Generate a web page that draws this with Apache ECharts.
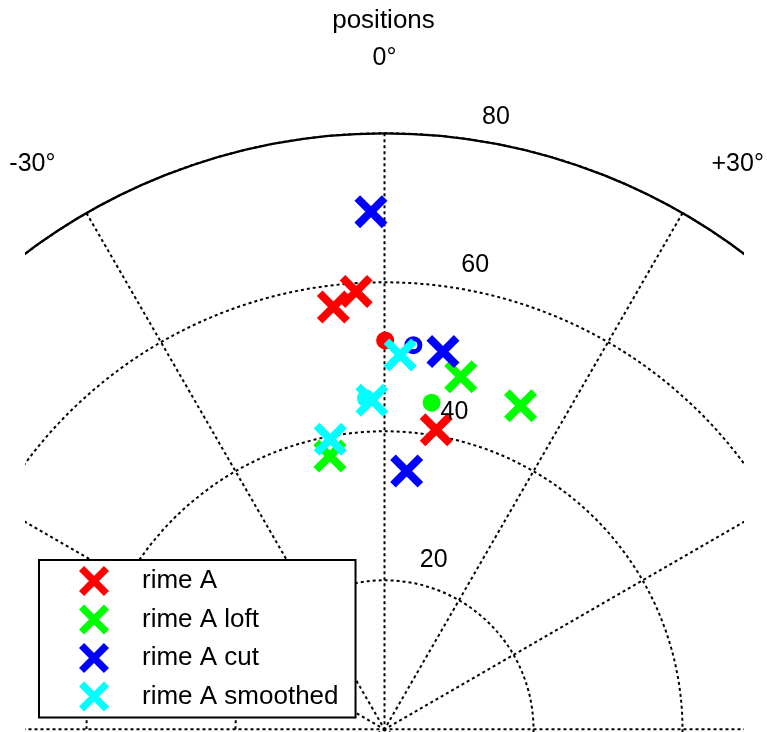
<!DOCTYPE html>
<html>
<head>
<meta charset="utf-8">
<script src="https://cdn.jsdelivr.net/npm/echarts@6/dist/echarts.min.js"></script>
<style>
  html, body { margin: 0; padding: 0; background: #ffffff; }
  #chart { width: 767px; height: 732px; }
</style>
</head>
<body>
<div id="chart"></div>
<script>
// Series names and colours
const seriesNames = ['rime A', 'rime A loft', 'rime A cut', 'rime A smoothed'];
const seriesColors = ['#ff0000', '#00ff00', '#0000ff', '#00ffff'];

// Positions: angle in degrees (clockwise from 0° at the top) and radius
const rimeAngle = [-3.7, -6.9, 9.8];
const rimeRadius = [58.9, 57.1, 40.8];
const loftAngle = [12.2, 22.8, -11.3];
const loftRadius = [48.4, 47.1, 37.4];
const cutAngle = [-1.5, 8.8, 4.9];
const cutRadius = [69.5, 51.3, 34.8];
const smoothAngle = [2.4, -2.2, -10.6];
const smoothRadius = [50.3, 44.2, 39.6];

// Centre point of each set (same order as seriesNames)
const centreAngle = [0.1, 8.2, 4.3, -3.2];
const centreRadius = [52.2, 44.3, 51.7, 44.5];

// Axis ticks and labels
const angleTicks = [-30, 0, 30];
const angleTickLabels = ['-30°', '0°', '+30°'];
const radiusTicks = [20, 40, 60, 80];
const radiusTickLabels = ['20', '40', '60', '80'];

const FONT = "'Liberation Sans', Arial, Helvetica, sans-serif";
const CX = 384.5, CY = 729.3, R = 596;

// "x" marker drawn as two crossing bars
const xMark = 'path://M17,0L100,83L83,100L0,17Z M83,0L100,17L17,100L0,83Z';

const angleSets = [rimeAngle, loftAngle, cutAngle, smoothAngle];
const radiusSets = [rimeRadius, loftRadius, cutRadius, smoothRadius];

function pairs(radii, angles) {
  return radii.map((r, i) => [r, angles[i]]);
}

const series = [];
seriesNames.forEach((name, k) => {
  series.push({
    type: 'scatter', name: name, coordinateSystem: 'polar', polarIndex: 0,
    symbol: xMark, symbolSize: 33, silent: true,
    itemStyle: { color: seriesColors[k], opacity: 1 },
    data: pairs(radiusSets[k], angleSets[k])
  });
  const hollow = k === 2;
  series.push({
    type: 'scatter', name: name + ' centre', coordinateSystem: 'polar', polarIndex: 0,
    symbol: 'circle', symbolSize: hollow ? 13 : 18, silent: true,
    itemStyle: hollow
      ? { color: 'rgba(0,0,0,0)', borderColor: seriesColors[k], borderWidth: 5, opacity: 1 }
      : { color: seriesColors[k], opacity: 1 },
    data: [[centreRadius[k], centreAngle[k]]]
  });
});

const dotted = { color: '#000', width: 2, type: [3, 3] };
const angleStyles = ['l', 't', 'r'];

const option = {
  animation: false,
  backgroundColor: '#ffffff',
  textStyle: { fontFamily: FONT },
  title: {
    text: 'positions', left: 'center', top: 3,
    textStyle: { fontSize: 26, fontWeight: 'normal', color: '#000', fontFamily: FONT }
  },
  legend: {
    data: seriesNames, orient: 'vertical', left: 39, top: 560,
    padding: [6, 17, 6, 40], itemWidth: 32, itemHeight: 30, itemGap: 8.5,
    backgroundColor: '#ffffff', borderColor: '#000', borderWidth: 2, borderRadius: 0,
    selectedMode: false, z: 5,
    formatter: name => '{n|' + name + '}',
    textStyle: {
      fontSize: 26, color: '#000', fontFamily: FONT,
      rich: { n: { fontSize: 26, color: '#000', fontFamily: FONT, padding: [0, 0, 0, 27] } }
    }
  },
  graphic: {
    elements: [
      { type: 'rect', z: 1, silent: true, shape: { x: 0, y: 0, width: 25, height: 732 }, style: { fill: '#ffffff' } },
      { type: 'rect', z: 1, silent: true, shape: { x: 744, y: 0, width: 23, height: 732 }, style: { fill: '#ffffff' } }
    ]
  },
  polar: [
    { center: [CX, CY], radius: R },
    { center: [CX, CY], radius: R },
    { center: [CX + 28.5, CY - 22], radius: R }
  ],
  angleAxis: [
    {
      polarIndex: 0, type: 'value', min: -180, max: 180, interval: 30,
      startAngle: 270, clockwise: true, z: 0,
      axisLine: { show: true, lineStyle: { color: '#000', width: 2.2 } },
      axisTick: { show: false }, axisLabel: { show: false },
      splitLine: { show: true, lineStyle: dotted }
    },
    {
      polarIndex: 1, type: 'value', min: -180, max: 180, interval: 30,
      startAngle: 270, clockwise: true, z: 6,
      axisLine: { show: false }, axisTick: { show: false }, splitLine: { show: false },
      axisLabel: {
        show: true, margin: 42, color: '#000', fontSize: 25, fontFamily: FONT,
        formatter: v => {
          const i = angleTicks.indexOf(v);
          return i < 0 ? '' : '{' + angleStyles[i] + '|' + angleTickLabels[i] + '}';
        },
        rich: {
          l: { fontSize: 25, color: '#000', fontFamily: FONT, padding: [0, 10, 0, 0] },
          t: { fontSize: 25, color: '#000', fontFamily: FONT, padding: [0, 0, 21, 0] },
          r: { fontSize: 25, color: '#000', fontFamily: FONT, padding: [0, 0, 0, 8] }
        }
      }
    },
    {
      polarIndex: 2, type: 'value', min: 0, max: 360, startAngle: 82, show: false
    }
  ],
  radiusAxis: [
    {
      polarIndex: 0, type: 'value', min: 0, max: 80, interval: 20, z: 0,
      axisLine: { show: false }, axisTick: { show: false }, axisLabel: { show: false },
      splitLine: { show: true, lineStyle: dotted }
    },
    { polarIndex: 1, type: 'value', min: 0, max: 80, show: false },
    {
      polarIndex: 2, type: 'value', min: 0, max: 80, interval: 20, z: 6,
      axisLine: { show: false }, axisTick: { show: false }, splitLine: { show: false },
      axisLabel: {
        show: true, margin: 0, align: 'center', verticalAlign: 'middle',
        color: '#000', fontSize: 25, fontFamily: FONT,
        formatter: v => {
          const i = radiusTicks.indexOf(v);
          return i < 0 ? '' : radiusTickLabels[i];
        }
      }
    }
  ],
  series: series
};

const chart = echarts.init(document.getElementById('chart'), null, { renderer: 'canvas' });
chart.setOption(option);
</script>
</body>
</html>
